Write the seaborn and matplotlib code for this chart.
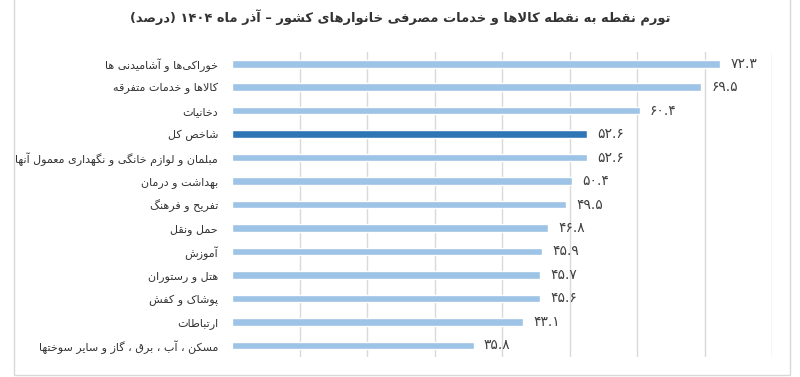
import re
import matplotlib
matplotlib.use("Agg")
import matplotlib.pyplot as plt
import seaborn as sns
import pandas as pd
from matplotlib.patches import Rectangle

# ---------------- data ----------------
categories = [
    "خوراکی‌ها و آشامیدنی ها",
    "کالاها و خدمات متفرقه",
    "دخانیات",
    "شاخص کل",
    "مبلمان و لوازم خانگی و نگهداری معمول آنها",
    "بهداشت و درمان",
    "تفریح و فرهنگ",
    "حمل ونقل",
    "آموزش",
    "هتل و رستوران",
    "پوشاک و کفش",
    "ارتباطات",
    "مسکن ، آب ، برق ، گاز و سایر سوختها",
]
values = [72.3, 69.5, 60.4, 52.6, 52.6, 50.4, 49.5, 46.8, 45.9, 45.7, 45.6, 43.1, 35.8]
highlight = "شاخص کل"
title = "تورم نقطه به نقطه کالاها و خدمات مصرفی خانوارهای کشور – آذر ماه ۱۴۰۴ (درصد)"

LIGHT = "#9DC3E6"
DARK = "#2E75B6"

# ---------------- simple Persian shaping + bidi ----------------
DUAL = {'ب': 0xFE8F, 'ت': 0xFE95, 'ث': 0xFE99, 'ج': 0xFE9D, 'ح': 0xFEA1, 'خ': 0xFEA5,
        'س': 0xFEB1, 'ش': 0xFEB5, 'ص': 0xFEB9, 'ض': 0xFEBD, 'ط': 0xFEC1, 'ظ': 0xFEC5,
        'ع': 0xFEC9, 'غ': 0xFECD, 'ف': 0xFED1, 'ق': 0xFED5, 'ك': 0xFED9, 'ل': 0xFEDD,
        'م': 0xFEE1, 'ن': 0xFEE5, 'ه': 0xFEE9, 'ي': 0xFEF1, 'ی': 0xFBFC, 'پ': 0xFB56,
        'چ': 0xFB7A, 'ک': 0xFB8E, 'گ': 0xFB92, 'ئ': 0xFE89}
RIGHT = {'ا': 0xFE8D, 'آ': 0xFE81, 'أ': 0xFE83, 'إ': 0xFE87, 'د': 0xFEA9, 'ذ': 0xFEAB,
         'ر': 0xFEAD, 'ز': 0xFEAF, 'ژ': 0xFB8A, 'و': 0xFEED, 'ؤ': 0xFE85, 'ة': 0xFE93}
LAMALEF = {'ا': (0xFEFB, 0xFEFC), 'آ': (0xFEF5, 0xFEF6)}


def shape(s):
    chars = list(s)
    n = len(chars)
    res = []
    i = 0
    while i < n:
        c = chars[i]
        if c not in DUAL and c not in RIGHT:
            if c != '\u200c':
                res.append(c)
            i += 1
            continue
        prev = chars[i - 1] if i > 0 else None
        nxt = chars[i + 1] if i + 1 < n else None
        cp = prev is not None and prev in DUAL
        if c == 'ل' and nxt in LAMALEF:
            iso, fin = LAMALEF[nxt]
            res.append(chr(fin if cp else iso))
            i += 2
            continue
        cn = c in DUAL and nxt is not None and (nxt in DUAL or nxt in RIGHT)
        base = DUAL.get(c, RIGHT.get(c))
        if cp and cn:
            res.append(chr(base + 3))
        elif cp:
            res.append(chr(base + 1))
        elif cn:
            res.append(chr(base + 2))
        else:
            res.append(chr(base))
        i += 1
    return ''.join(res)


def visual(s):
    rev = shape(s)[::-1]
    rev = re.sub(r'[0-9\u06F0-\u06F9][0-9\u06F0-\u06F9.]*', lambda m: m.group(0)[::-1], rev)
    return rev.translate(str.maketrans('()', ')('))


FA_DIGITS = str.maketrans('0123456789', '۰۱۲۳۴۵۶۷۸۹')


def fa_num(v):
    return f"{v:.1f}".translate(FA_DIGITS)


# ---------------- plot ----------------
sns.set_style("white")
plt.rcParams['font.family'] = ['DejaVu Sans']

df = pd.DataFrame({"category": categories, "value": values})
df["label"] = [visual(c) for c in categories]
palette = {visual(c): (DARK if c == highlight else LIGHT) for c in categories}

fig = plt.figure(figsize=(8, 3.77), dpi=100)
ax = fig.add_axes([0.29, 0.053, 0.675, 0.809])
sns.barplot(data=df, x="value", y="label", hue="label", palette=palette,
            orient="h", width=0.32, saturation=1, legend=False, ax=ax)

ax.set_xlim(0, 80)
ax.set_xticks(range(10, 81, 10))
ax.xaxis.grid(True, color="#d9d9d9", lw=1)
ax.yaxis.grid(False)
ax.set_axisbelow(True)
ax.tick_params(axis="x", length=0, labelbottom=False)
ax.tick_params(axis="y", length=0, pad=10, labelsize=8, labelcolor="#333333")
for sp in ax.spines.values():
    sp.set_visible(False)
ax.set_xlabel("")
ax.set_ylabel("")

for i, v in enumerate(values):
    ax.text(v + 1.5, i, fa_num(v), va="center", ha="left", fontsize=10, color="#404040")

fig.text(0.5, 0.953, visual(title), ha="center", va="center", fontsize=9.4,
         fontweight="bold", color="#333333")

fig.patches.append(Rectangle((14 / 800, 2 / 377), (790 - 14) / 800, 1.2,
                             transform=fig.transFigure, fill=False,
                             ec="#d9d9d9", lw=1))

fig.savefig("out.png", dpi=100)
